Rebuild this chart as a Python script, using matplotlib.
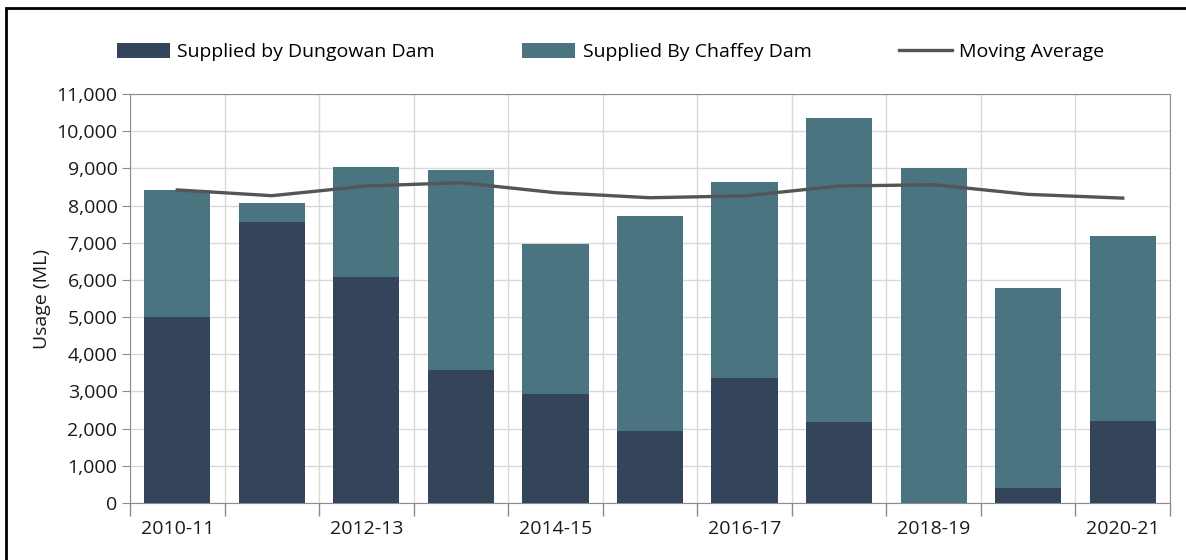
import matplotlib.pyplot as plt
from matplotlib.patches import Rectangle
from matplotlib.ticker import FuncFormatter, MultipleLocator, FixedLocator

plt.rcParams['font.family'] = ['Open Sans', 'DejaVu Sans']

years = ['2010-11', '2011-12', '2012-13', '2013-14', '2014-15', '2015-16',
         '2016-17', '2017-18', '2018-19', '2019-20', '2020-21']
dungowan = [5000, 7550, 6080, 3570, 2920, 1930, 3360, 2170, 0, 400, 2200]
total = [8410, 8070, 9050, 8950, 6960, 7710, 8630, 10350, 9000, 5770, 7180]
chaffey = [t - d for t, d in zip(total, dungowan)]
moving_avg = [8420, 8265, 8525, 8615, 8345, 8210, 8260, 8525, 8560, 8300, 8200]

C_DUN = '#34445a'
C_CHA = '#4a7480'
GRID = '#d9d9d9'
SPINE = '#8c8c8c'
TXT = '#1a1a1a'
FS = 14

fig = plt.figure(figsize=(11.86, 5.6), dpi=100)
ax = fig.add_axes([130/1186, 1 - 503/560, (1170-130)/1186, (503-94)/560])

x = list(range(len(years)))
b1 = ax.bar(x, dungowan, 0.7, color=C_DUN, label='Supplied by Dungowan Dam', zorder=3)
b2 = ax.bar(x, chaffey, 0.7, bottom=dungowan, color=C_CHA, label='Supplied By Chaffey Dam', zorder=3)
ln, = ax.plot(x, moving_avg, color='#555555', lw=2.4, label='Moving Average', zorder=4)

ax.set_xlim(-0.5, len(years) - 0.5)
ax.set_ylim(0, 11000)
ax.yaxis.set_major_locator(MultipleLocator(1000))
ax.yaxis.set_major_formatter(FuncFormatter(lambda v, p: f'{int(v):,}'))

ax.xaxis.set_major_locator(FixedLocator([i - 0.5 for i in range(len(years) + 1)]))
ax.xaxis.set_minor_locator(FixedLocator(x[::2]))
ax.set_xticklabels([], minor=False)
ax.set_xticklabels(years[::2], minor=True)
ax.tick_params(axis='x', which='major', length=9, color=SPINE, width=1)
ax.tick_params(axis='x', which='minor', length=0, pad=12, labelsize=FS, labelcolor=TXT)
ax.tick_params(axis='y', length=6, color=SPINE, labelsize=FS, labelcolor=TXT, pad=3)

ax.grid(True, which='major', color=GRID, lw=1, zorder=0)
for s in ax.spines.values():
    s.set_color(SPINE)

ax.set_ylabel('Usage (ML)', fontsize=FS, color=TXT, labelpad=4)

ax.legend([b1, b2, ln], [b1.get_label(), b2.get_label(), ln.get_label()],
          loc='center', bbox_to_anchor=(0.515, 1 - 52/560), bbox_transform=fig.transFigure,
          ncol=3, frameon=False, fontsize=FS, handlelength=2.7, handleheight=0.8,
          handletextpad=0.4, columnspacing=4.5)

fig.patches.append(Rectangle((6/1186, -0.05), 1.1, 1 - 8/560 + 0.05, transform=fig.transFigure,
                             fill=False, edgecolor='black', lw=2))

fig.savefig('out.png', dpi=100)
